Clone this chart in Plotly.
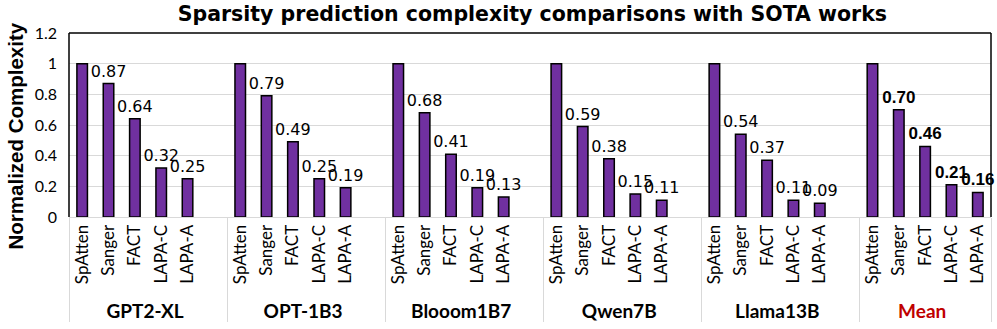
import plotly.graph_objects as go

groups = ["GPT2-XL", "OPT-1B3", "Blooom1B7", "Qwen7B", "Llama13B", "Mean"]
methods = ["SpAtten", "Sanger", "FACT", "LAPA-C", "LAPA-A"]
values = {
    "GPT2-XL":   [1.00, 0.87, 0.64, 0.32, 0.25],
    "OPT-1B3":   [1.00, 0.79, 0.49, 0.25, 0.19],
    "Blooom1B7": [1.00, 0.68, 0.41, 0.19, 0.13],
    "Qwen7B":    [1.00, 0.59, 0.38, 0.15, 0.11],
    "Llama13B":  [1.00, 0.54, 0.37, 0.11, 0.09],
    "Mean":      [1.00, 0.70, 0.46, 0.21, 0.16],
}

def group_label(g):
    if g == "Mean":
        return "<span style='color:#C00000;font-size:19px'><b>Mean</b></span>"
    return "<span style='font-size:19px'><b>%s</b></span>" % g

def build(gs, blanks):
    xg, xc, ys, texts = [], [], [], []
    for gi, g in enumerate(gs):
        for m, v in zip(methods, values[g]):
            xg.append(group_label(g))
            xc.append(m)
            ys.append(v)
            texts.append("" if m == "SpAtten" else "%.2f" % v)
        if blanks:
            xg.append(group_label(g))
            xc.append(" ")
            ys.append(None)
            texts.append("")
    return xg, xc, ys, texts

fig = go.Figure()
xg, xc, ys, texts = build(groups[:-1], True)
fig.add_trace(go.Bar(
    x=[xg, xc], y=ys, text=texts, textposition="outside",
    constraintext="none", cliponaxis=False,
    textfont=dict(family="DejaVu Sans", size=16, color="#000000"),
    marker=dict(color="#7030A0", line=dict(color="#000000", width=1.5)),
    showlegend=False,
))
xg, xc, ys, texts = build(groups[-1:], False)
fig.add_trace(go.Bar(
    x=[xg, xc], y=ys, text=texts, textposition="outside",
    constraintext="none", cliponaxis=False,
    textfont=dict(family="Liberation Sans, Arial", size=17, color="#000000", weight="bold"),
    marker=dict(color="#7030A0", line=dict(color="#000000", width=1.5)),
    showlegend=False,
))

fig.update_layout(
    width=997, height=329,
    margin=dict(l=69, r=6, t=33, b=112, autoexpand=False),
    paper_bgcolor="white", plot_bgcolor="white",
    barmode="overlay",
    bargap=0.6,
    title=dict(text="<b>Sparsity prediction complexity comparisons with SOTA works</b>",
               x=0.534, xanchor="center", y=1 - 14 / 329, yanchor="middle",
               font=dict(family="DejaVu Sans", size=20.5, color="#000000")),
    xaxis=dict(type="multicategory", tickangle=-90, ticks="", showline=True,
               linecolor="#d9d9d9", linewidth=1, showgrid=False, automargin=False,
               showdividers=True, dividercolor="#d9d9d9", dividerwidth=1,
               tickfont=dict(family="Lato", size=17, color="#000000")),
    yaxis=dict(range=[0, 1.2], dtick=0.2, showgrid=True, gridcolor="#d9d9d9",
               gridwidth=1, zeroline=False, ticks="", showline=False, automargin=False,
               ticklabelstandoff=11,
               tickfont=dict(family="Lato", size=16, color="#000000")),
    annotations=[dict(text="<b>Normalized Complexity</b>", textangle=-90,
                      xref="paper", yref="paper", x=(15 - 69) / 922, y=(217 - 136.5) / 184,
                      xanchor="center", yanchor="middle", showarrow=False,
                      font=dict(family="Liberation Sans, Arial", size=20.5, color="#000000"))],
    shapes=[
        dict(type="line", xref="paper", yref="paper", x0=0, x1=1, y0=1, y1=1,
             line=dict(color="#000000", width=1.5)),
        dict(type="line", xref="paper", yref="paper", x0=0, x1=0, y0=0, y1=1,
             line=dict(color="#000000", width=1.5)),
        dict(type="line", xref="paper", yref="paper", x0=1, x1=1, y0=0, y1=1,
             line=dict(color="#000000", width=1.5)),
    ],
)

fig.write_html("out.html", config={"displayModeBar": False},
               post_script="document.body.style.margin='0';document.body.style.overflow='hidden';")
